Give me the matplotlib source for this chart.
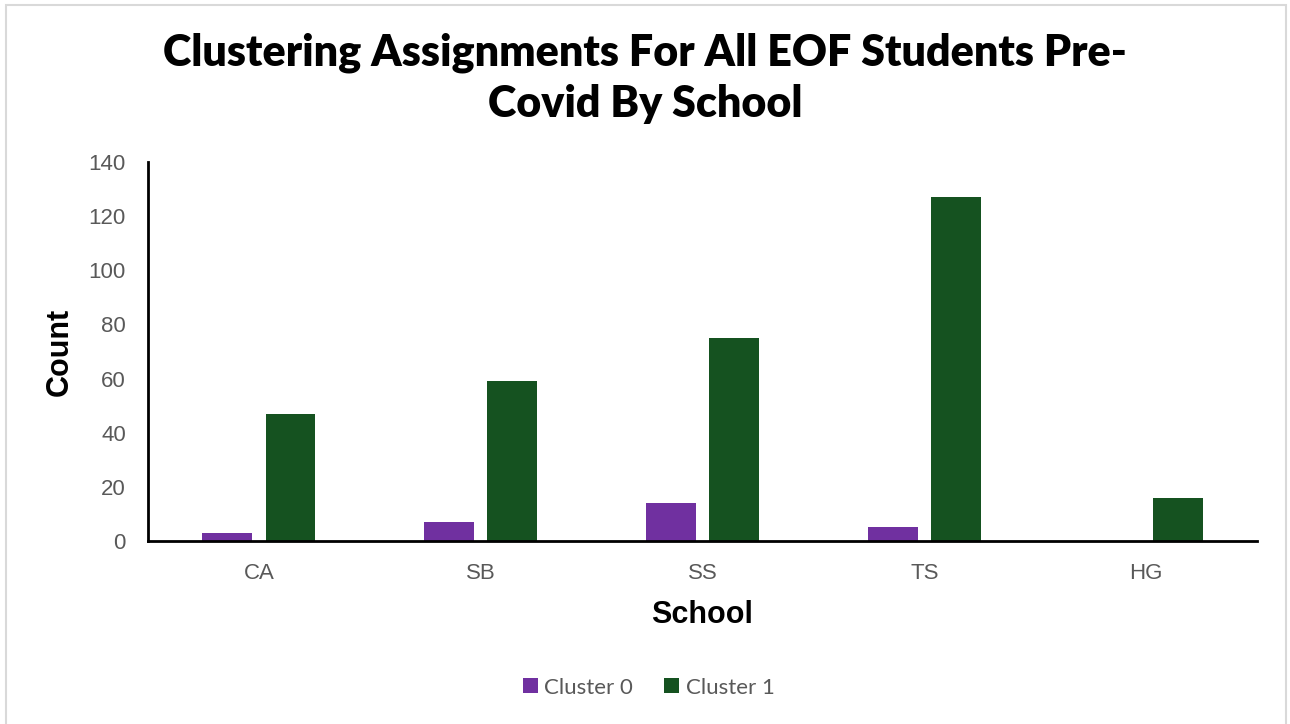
import matplotlib
matplotlib.use("Agg")
import matplotlib.pyplot as plt
import numpy as np
from matplotlib.patches import Rectangle

schools = ["CA", "SB", "SS", "TS", "HG"]
cluster0 = [3, 7, 14, 5, 0]
cluster1 = [47, 59, 75, 127, 16]
series_names = ["Cluster 0", "Cluster 1"]
colors = ["#7030A0", "#155220"]

fig = plt.figure(figsize=(12.9, 7.24), dpi=100)
fig.patch.set_facecolor("white")
# light frame around the chart area
fig.add_artist(Rectangle((6 / 1290, -0.01), 1280 / 1290, 1 - 5 / 724 + 0.01,
                         transform=fig.transFigure, fill=False,
                         edgecolor="#d9d9d9", linewidth=1.5))

ax = fig.add_axes([148 / 1290, 1 - 541 / 724, (1257 - 148) / 1290, (541 - 162) / 724])

x = np.arange(len(schools))
w = 0.225
off = 0.1425
ax.bar(x - off, cluster0, width=w, color=colors[0], label=series_names[0])
ax.bar(x + off, cluster1, width=w, color=colors[1], label=series_names[1])

ax.set_xlim(-0.5, len(schools) - 0.5)
ax.set_ylim(0, 140)
ax.set_yticks(range(0, 141, 20))
ax.set_xticks(x)
ax.set_xticklabels(schools)

for s in ["top", "right"]:
    ax.spines[s].set_visible(False)
for s in ["left", "bottom"]:
    ax.spines[s].set_linewidth(2)
    ax.spines[s].set_color("black")
ax.tick_params(length=0, labelsize=16, labelcolor="#595959")
ax.tick_params(axis="y", pad=16)
ax.tick_params(axis="x", pad=16)
for lab in ax.get_xticklabels() + ax.get_yticklabels():
    lab.set_family("Liberation Sans")

ax.set_xlabel("School", fontsize=22, fontweight="bold", family="Liberation Sans")
ax.set_ylabel("Count", fontsize=22, fontweight="bold", family="Liberation Sans")
ax.xaxis.set_label_coords(0.5, -0.155)
ax.yaxis.set_label_coords(-0.066, 0.5)

fig.text(0.5, 1 - 78 / 724, "Clustering Assignments For All EOF Students Pre-\nCovid By School",
         ha="center", va="center", fontsize=31, fontweight="heavy", family="Lato",
         linespacing=1.32)

fig.legend(loc="center", bbox_to_anchor=(0.503, 1 - 687.5 / 724), ncol=2, frameon=False,
           prop={"family": "Lato", "size": 16}, labelcolor="#595959",
           handlelength=0.65, handleheight=0.65, handletextpad=0.3, columnspacing=1.4)

fig.savefig("out.png", dpi=100)
